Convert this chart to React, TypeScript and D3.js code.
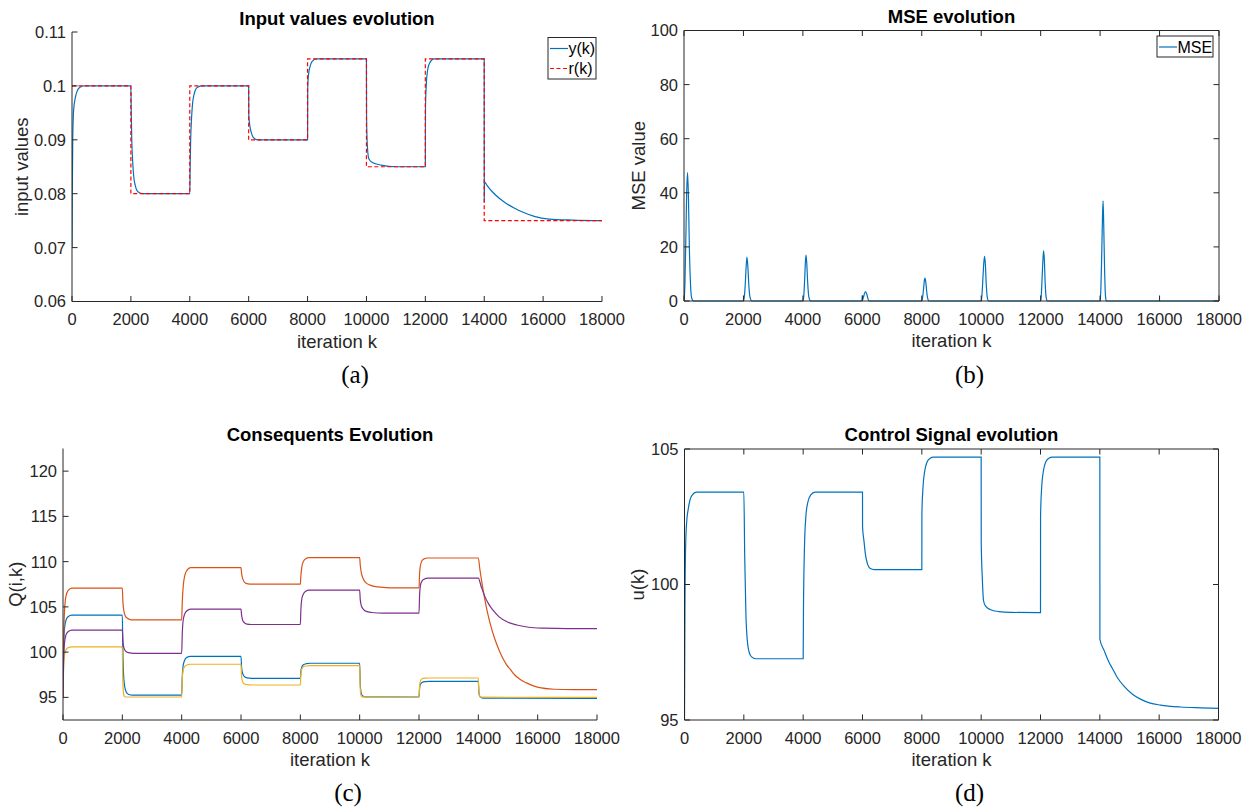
import React from "react";
import * as d3 from "d3";

type Pt = [number, number];

const xTicks = [0, 2000, 4000, 6000, 8000, 10000, 12000, 14000, 16000, 18000];

// (a) Input values evolution
const inputYTicks = [0.06, 0.07, 0.08, 0.09, 0.1, 0.11];
const inputYTickLabels = ["0.06", "0.07", "0.08", "0.09", "0.1", "0.11"];
const yk: Pt[] = [
  [0, 0.07], [10, 0.08], [25, 0.09], [55, 0.0955], [120, 0.098], [180, 0.0991], [260, 0.0997], [400, 0.1], [2000, 0.1],
  [2010, 0.096], [2030, 0.09], [2060, 0.086], [2100, 0.083], [2150, 0.0815], [2250, 0.0803], [2400, 0.08], [4000, 0.08],
  [4010, 0.084], [4030, 0.09], [4060, 0.094], [4100, 0.097], [4150, 0.0985], [4250, 0.0997], [4400, 0.1], [6000, 0.1],
  [6005, 0.0945], [6030, 0.093], [6080, 0.0915], [6150, 0.0905], [6300, 0.09], [8000, 0.09],
  [8005, 0.0995], [8030, 0.102], [8080, 0.1035], [8150, 0.1045], [8300, 0.105], [10000, 0.105],
  [10005, 0.094], [10030, 0.089], [10080, 0.0865], [10200, 0.0858], [10500, 0.0853], [11000, 0.085], [12000, 0.085],
  [12005, 0.096], [12030, 0.1], [12080, 0.103], [12150, 0.1043], [12300, 0.105], [14000, 0.105],
  [14002, 0.0785], [14010, 0.0822], [14100, 0.0815], [14250, 0.0805], [14500, 0.0792], [14750, 0.0782], [15000, 0.0774],
  [15300, 0.0766], [15700, 0.0758], [16200, 0.0753], [17000, 0.0751], [18000, 0.075],
];
const rk: Pt[] = [
  [0, 0.1], [2000, 0.08], [4000, 0.1], [6000, 0.09], [8000, 0.105], [10000, 0.085], [12000, 0.105], [14000, 0.075], [18000, 0.075],
];

// (b) MSE evolution
const mseYTicks = [0, 20, 40, 60, 80, 100];
const mse: Pt[] = [
  [0, 0], [30, 6], [60, 22], [90, 40], [120, 47.5], [150, 38], [180, 20], [220, 6], [260, 1], [320, 0],
  [2000, 0], [2030, 1.5], [2060, 6], [2090, 12.5], [2118, 16.2], [2150, 12.5], [2180, 6], [2220, 1.5], [2280, 0],
  [4000, 0], [4030, 2], [4060, 8], [4085, 14.5], [4105, 17], [4130, 14], [4160, 7], [4200, 1.5], [4260, 0],
  [5990, 0], [6000, 2], [6010, 0.5], [6040, 1.5], [6080, 3], [6110, 3.5], [6150, 2.5], [6190, 0.8], [6230, 0],
  [8000, 0], [8030, 1.5], [8060, 4.5], [8090, 7.8], [8110, 8.5], [8140, 6.5], [8170, 3], [8210, 0.5], [8240, 0],
  [10000, 0], [10030, 3], [10060, 9], [10090, 14.5], [10115, 16.5], [10140, 13.5], [10170, 6], [10210, 1], [10250, 0],
  [12000, 0], [12020, 2], [12050, 9], [12080, 16], [12100, 18.5], [12125, 15], [12150, 7], [12190, 1], [12230, 0],
  [14000, 0], [14020, 3], [14050, 15], [14080, 31], [14100, 37], [14120, 29], [14150, 12], [14180, 2], [14210, 0],
  [18000, 0],
];

// (c) Consequents Evolution
const qYTicks = [95, 100, 105, 110, 115, 120];
const q1: Pt[] = [
  [0, 95], [20, 100], [50, 102.6], [100, 103.5], [170, 103.9], [300, 104.08], [2000, 104.08],
  [2015, 100.5], [2040, 97.6], [2080, 96.2], [2130, 95.6], [2200, 95.35], [2350, 95.25], [4000, 95.25],
  [4020, 97.2], [4050, 98.5], [4100, 99.1], [4170, 99.4], [4300, 99.54], [6000, 99.54],
  [6020, 98.3], [6050, 97.7], [6100, 97.35], [6200, 97.15], [6350, 97.1], [8000, 97.1],
  [8020, 97.9], [8050, 98.35], [8100, 98.6], [8200, 98.72], [8350, 98.77], [10000, 98.77],
  [10020, 96.5], [10050, 95.5], [10100, 95.15], [10200, 95.05], [12000, 95.04],
  [12020, 96], [12050, 96.45], [12100, 96.65], [12200, 96.75], [12350, 96.77], [14000, 96.77],
  [14020, 95.5], [14060, 95.05], [14150, 94.92], [18000, 94.9],
];
const q2: Pt[] = [
  [0, 95], [20, 101], [50, 104.5], [100, 106.2], [170, 106.8], [300, 107.08], [2000, 107.08],
  [2020, 105.5], [2050, 104.6], [2100, 104], [2170, 103.75], [2300, 103.57], [4000, 103.57],
  [4020, 105.5], [4050, 107.2], [4100, 108.4], [4170, 109], [4300, 109.33], [6000, 109.33],
  [6020, 108.7], [6050, 108.2], [6100, 107.8], [6170, 107.6], [6300, 107.52], [8000, 107.52],
  [8020, 108.5], [8050, 109.4], [8100, 110], [8170, 110.3], [8300, 110.44], [10000, 110.44],
  [10020, 109.6], [10060, 108.7], [10120, 108.1], [10200, 107.7], [10350, 107.4], [10600, 107.2], [11000, 107.11], [12000, 107.1],
  [12020, 108.7], [12050, 109.6], [12100, 110.1], [12170, 110.3], [12300, 110.4], [14000, 110.4],
  [14050, 109.2], [14120, 107.7], [14200, 106.15], [14300, 104.5], [14420, 102.9], [14550, 101.5], [14690, 100.3],
  [14830, 99.3], [14955, 98.6], [15100, 98.0], [15220, 97.5], [15400, 97.0], [15620, 96.6], [16020, 96.1],
  [16555, 95.9], [17200, 95.85], [18000, 95.85],
];
const q3: Pt[] = [
  [0, 95], [20, 98.3], [50, 99.7], [100, 100.25], [170, 100.48], [300, 100.58], [2000, 100.58],
  [2010, 98], [2030, 95.8], [2060, 95.15], [2100, 95.04], [4000, 95.04],
  [4020, 97], [4050, 98], [4100, 98.4], [4170, 98.58], [4300, 98.66], [6000, 98.66],
  [6020, 97.3], [6050, 96.75], [6100, 96.5], [6200, 96.4], [6350, 96.37], [8000, 96.37],
  [8020, 97.6], [8050, 98.15], [8100, 98.38], [8200, 98.47], [8350, 98.5], [10000, 98.5],
  [10015, 96.3], [10040, 95.3], [10080, 95.06], [12000, 95.04],
  [12020, 96.3], [12050, 96.85], [12100, 97.05], [12200, 97.12], [12350, 97.14], [14000, 97.14],
  [14015, 95.8], [14040, 95.15], [14100, 95.02], [18000, 95.0],
];
const q4: Pt[] = [
  [0, 95], [20, 99], [50, 101], [100, 101.9], [170, 102.25], [300, 102.42], [2000, 102.42],
  [2020, 101.2], [2050, 100.5], [2100, 100.15], [2200, 99.95], [2400, 99.87], [4000, 99.87],
  [4020, 102], [4050, 103.5], [4100, 104.2], [4170, 104.55], [4300, 104.75], [6000, 104.75],
  [6020, 104.1], [6050, 103.6], [6100, 103.3], [6200, 103.1], [6350, 103.05], [8000, 103.05],
  [8020, 104.8], [8050, 105.9], [8100, 106.4], [8170, 106.7], [8300, 106.85], [10000, 106.85],
  [10020, 105.8], [10060, 105.1], [10120, 104.75], [10220, 104.5], [10400, 104.38], [10800, 104.3], [12000, 104.3],
  [12020, 106.3], [12050, 107.4], [12100, 107.85], [12170, 108.05], [12300, 108.18], [14000, 108.18],
  [14100, 107.2], [14200, 106.3], [14350, 105.3], [14500, 104.6], [14700, 103.9], [15000, 103.3], [15300, 103],
  [15700, 102.75], [16200, 102.65], [17000, 102.6], [18000, 102.6],
];

// (d) Control Signal evolution
const uYTicks = [95, 100, 105];
const uk: Pt[] = [
  [0, 95], [15, 99], [40, 101.5], [80, 102.4], [121, 102.75], [180, 103.1], [256, 103.3], [400, 103.41], [2000, 103.41],
  [2030, 101], [2070, 98.9], [2120, 97.9], [2180, 97.5], [2260, 97.33], [2400, 97.26], [4000, 97.26],
  [4010, 99], [4040, 101.2], [4090, 102.5], [4150, 103], [4250, 103.3], [4400, 103.41], [6000, 103.41],
  [6002, 102.13], [6050, 101.6], [6100, 101.1], [6170, 100.75], [6250, 100.6], [6400, 100.55], [8000, 100.55],
  [8002, 102.6], [8040, 103.6], [8100, 104.2], [8170, 104.5], [8270, 104.65], [8400, 104.7], [10000, 104.7],
  [10002, 101.58], [10040, 100.2], [10080, 99.4], [10150, 99.2], [10300, 99.08], [10600, 99.0], [11000, 98.97], [12000, 98.96],
  [12002, 102.5], [12040, 103.6], [12100, 104.2], [12170, 104.5], [12270, 104.65], [12400, 104.7], [14000, 104.7],
  [14002, 97.98], [14150, 97.55], [14300, 97.15], [14424, 96.9], [14600, 96.55], [14829, 96.23], [15100, 95.95],
  [15369, 95.77], [15700, 95.62], [16044, 95.55], [16718, 95.48], [17400, 95.45], [18000, 95.43],
];

const BLUE = "#0072BD";
const ORANGE = "#D95319";
const YELLOW = "#EDB120";
const PURPLE = "#7E2F8E";
const AX = "#262626";
const SANS = "'Liberation Sans', Arial, Helvetica, sans-serif";
const SERIF = "'Liberation Serif', 'Times New Roman', serif";

type Series = { data: Pt[]; color: string; dash?: string; step?: boolean };
type LegendItem = { label: string; color: string; dash?: string };

type PanelProps = {
  x0: number; x1: number; yTop: number; yBot: number;
  yDomain: [number, number];
  yTicks: number[];
  yLabels?: string[];
  box: boolean;
  title: string; titleY: number;
  xlabel: string;
  ylabel: string; ylabelX: number;
  series: Series[];
  legend?: { x: number; y: number; w: number; h: number; items: LegendItem[] };
  caption: string; captionY: number;
};

function Panel(p: PanelProps) {
  const x = d3.scaleLinear().domain([0, 18000]).range([p.x0, p.x1]);
  const y = d3.scaleLinear().domain(p.yDomain).range([p.yBot, p.yTop]);
  const tl = 5.5;
  const cx = (p.x0 + p.x1) / 2;
  const cy = (p.yTop + p.yBot) / 2;
  const clipId = "clip" + Math.round(p.x0) + "_" + Math.round(p.yTop);
  return (
    <g>
      <defs>
        <clipPath id={clipId}>
          <rect x={p.x0} y={p.yTop - 1} width={p.x1 - p.x0} height={p.yBot - p.yTop + 2} />
        </clipPath>
      </defs>
      <g clipPath={`url(#${clipId})`}>
        {p.series.map((s, i) => {
          const line = d3
            .line<Pt>()
            .x((d) => x(d[0]))
            .y((d) => y(d[1]))
            .curve(s.step ? d3.curveStepAfter : d3.curveMonotoneX);
          return (
            <path key={i} d={line(s.data) || ""} fill="none" stroke={s.color} strokeWidth={1.2}
              strokeDasharray={s.dash} />
          );
        })}
      </g>
      {/* axes */}
      <line x1={p.x0} x2={p.x1} y1={p.yBot} y2={p.yBot} stroke={AX} strokeWidth={1} />
      <line x1={p.x0} x2={p.x0} y1={p.yTop} y2={p.yBot} stroke={AX} strokeWidth={1} />
      {p.box && (
        <>
          <line x1={p.x0} x2={p.x1} y1={p.yTop} y2={p.yTop} stroke={AX} strokeWidth={1} />
          <line x1={p.x1} x2={p.x1} y1={p.yTop} y2={p.yBot} stroke={AX} strokeWidth={1} />
        </>
      )}
      {xTicks.map((t) => (
        <g key={"xt" + t}>
          <line x1={x(t)} x2={x(t)} y1={p.yBot} y2={p.yBot - tl} stroke={AX} strokeWidth={1} />
          {p.box && <line x1={x(t)} x2={x(t)} y1={p.yTop} y2={p.yTop + tl} stroke={AX} strokeWidth={1} />}
          <text x={x(t)} y={p.yBot + 23.5} textAnchor="middle" fontFamily={SANS} fontSize={16.5} fill={AX}>
            {t}
          </text>
        </g>
      ))}
      {p.yTicks.map((t, i) => (
        <g key={"yt" + t}>
          <line x1={p.x0} x2={p.x0 + tl} y1={y(t)} y2={y(t)} stroke={AX} strokeWidth={1} />
          {p.box && <line x1={p.x1} x2={p.x1 - tl} y1={y(t)} y2={y(t)} stroke={AX} strokeWidth={1} />}
          <text x={p.x0 - 6} y={y(t)} dy="0.36em" textAnchor="end" fontFamily={SANS} fontSize={16.5} fill={AX}>
            {p.yLabels ? p.yLabels[i] : String(t)}
          </text>
        </g>
      ))}
      <text x={cx} y={p.titleY} textAnchor="middle" fontFamily={SANS} fontWeight="bold" fontSize={18.5} fill="#000">
        {p.title}
      </text>
      <text x={cx} y={p.yBot + 46} textAnchor="middle" fontFamily={SANS} fontSize={18.5} fill={AX}>
        {p.xlabel}
      </text>
      <text transform={`translate(${p.ylabelX},${cy}) rotate(-90)`} textAnchor="middle" fontFamily={SANS}
        fontSize={18.5} fill={AX}>
        {p.ylabel}
      </text>
      {p.legend && (
        <g>
          <rect x={p.legend.x} y={p.legend.y} width={p.legend.w} height={p.legend.h} fill="#fff" stroke={AX}
            strokeWidth={1} />
          {p.legend.items.map((it, i) => {
            const ly = p.legend!.y + 11 + i * 20;
            return (
              <g key={it.label}>
                <line x1={p.legend!.x + 2} x2={p.legend!.x + 20} y1={ly} y2={ly} stroke={it.color} strokeWidth={1.2}
                  strokeDasharray={it.dash} />
                <text x={p.legend!.x + 20.5} y={ly} dy="0.36em" fontFamily={SANS} fontSize={16} fill="#000">
                  {it.label}
                </text>
              </g>
            );
          })}
        </g>
      )}
      <text x={cx + 18} y={p.captionY} textAnchor="middle" fontFamily={SERIF} fontSize={25} fill="#000">
        {p.caption}
      </text>
    </g>
  );
}

export default function App() {
  return (
    <svg width={1248} height={809} style={{ position: "absolute", left: 0, top: 0, background: "#fff" }}>
      <rect x={0} y={0} width={1248} height={809} fill="#fff" />
      <Panel
        x0={72} x1={602} yTop={32} yBot={301.5}
        yDomain={[0.06, 0.11]} yTicks={inputYTicks} yLabels={inputYTickLabels}
        box={false}
        title="Input values evolution" titleY={24.5}
        xlabel="iteration k" ylabel="input values" ylabelX={28}
        series={[
          { data: yk, color: BLUE },
          { data: rk, color: "#FF0000", dash: "4,2.5", step: true },
        ]}
        legend={{ x: 548, y: 37.5, w: 48, h: 41.5, items: [
          { label: "y(k)", color: BLUE },
          { label: "r(k)", color: "#FF0000", dash: "4,2.5" },
        ] }}
        caption="(a)" captionY={383}
      />
      <Panel
        x0={684} x1={1219} yTop={30.5} yBot={301}
        yDomain={[0, 100]} yTicks={mseYTicks}
        box={true}
        title="MSE evolution" titleY={22.5}
        xlabel="iteration k" ylabel="MSE value" ylabelX={645}
        series={[{ data: mse, color: BLUE }]}
        legend={{ x: 1157, y: 36, w: 56, h: 21, items: [{ label: "MSE", color: BLUE }] }}
        caption="(b)" captionY={383}
      />
      <Panel
        x0={63} x1={597} yTop={448.5} yBot={720}
        yDomain={[92.5, 122.5]} yTicks={qYTicks}
        box={false}
        title="Consequents Evolution" titleY={441}
        xlabel="iteration k" ylabel="Q(i,k)" ylabelX={22}
        series={[
          { data: q1, color: BLUE },
          { data: q2, color: ORANGE },
          { data: q3, color: YELLOW },
          { data: q4, color: PURPLE },
        ]}
        caption="(c)" captionY={801}
      />
      <Panel
        x0={684.5} x1={1218.5} yTop={449} yBot={720}
        yDomain={[95, 105]} yTicks={uYTicks}
        box={true}
        title="Control Signal evolution" titleY={441}
        xlabel="iteration k" ylabel="u(k)" ylabelX={644}
        series={[{ data: uk, color: BLUE }]}
        caption="(d)" captionY={801}
      />
    </svg>
  );
}
